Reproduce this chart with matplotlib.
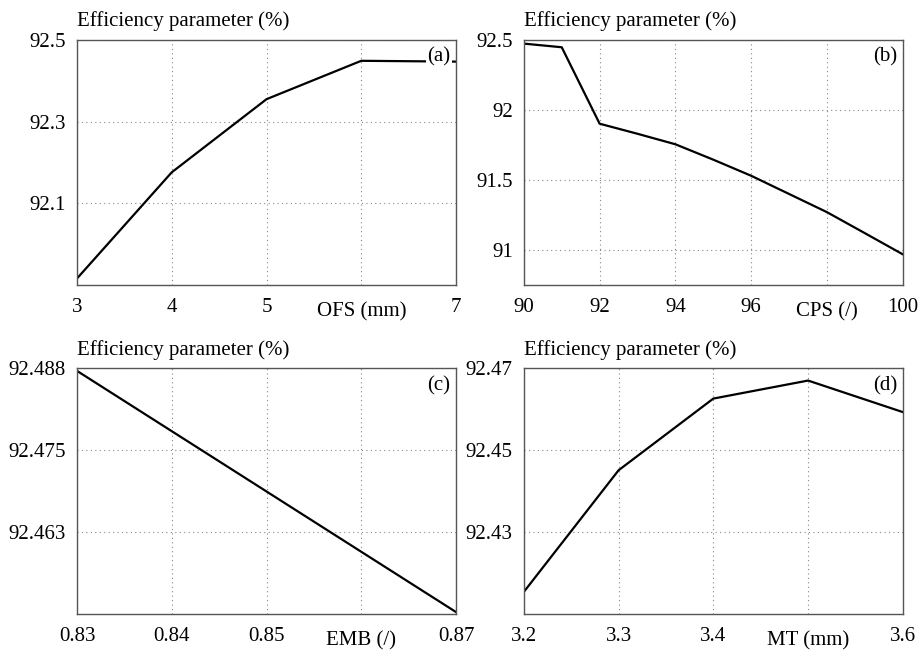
import numpy as np
import matplotlib
matplotlib.use("Agg")
from matplotlib import pyplot as plt
from matplotlib import transforms

plt.rcParams['font.family'] = ['Liberation Serif', 'DejaVu Serif']
plt.rcParams['font.size'] = 15

# (a) OFS
ofs = [3, 4, 5, 6, 7]
eff_a = [91.916, 92.176, 92.355, 92.449, 92.447]
# (b) CPS
cps = [90, 91, 92, 93, 94, 95, 96, 97, 98, 99, 100]
eff_b = [92.474, 92.448, 91.902, 91.83, 91.755, 91.645, 91.53, 91.40, 91.27, 91.12, 90.969]
# (c) EMB
emb = [0.83, 0.84, 0.85, 0.86, 0.87]
eff_c = [92.4871, 92.4779, 92.4687, 92.4595, 92.4503]
# (d) MT
mt = [3.2, 3.3, 3.4, 3.5, 3.6]
eff_d = [92.4154, 92.4451, 92.4626, 92.4670, 92.4593]

panels = [
    dict(x=ofs, y=eff_a, xlim=(3, 7), xticks=[3, 4, 5, 6, 7], xlbl=['3', '4', '5', '', '7'],
         ylim=(91.9, 92.5), yticks=[92.1, 92.3, 92.5], ylbl=['92.1', '92.3', '92.5'],
         xlabel='OFS (mm)', xlab_pos=6, tag='(a)'),
    dict(x=cps, y=eff_b, xlim=(90, 100), xticks=[90, 92, 94, 96, 98, 100],
         xlbl=['90', '92', '94', '96', '', '100'],
         ylim=(90.75, 92.5), yticks=[91, 91.5, 92, 92.5], ylbl=['91', '91.5', '92', '92.5'],
         xlabel='CPS (/)', xlab_pos=98, tag='(b)'),
    dict(x=emb, y=eff_c, xlim=(0.83, 0.87), xticks=[0.83, 0.84, 0.85, 0.86, 0.87],
         xlbl=['0.83', '0.84', '0.85', '', '0.87'],
         ylim=(92.45, 92.4875), yticks=[92.4625, 92.475, 92.4875],
         ylbl=['92.463', '92.475', '92.488'],
         xlabel='EMB (/)', xlab_pos=0.86, tag='(c)'),
    dict(x=mt, y=eff_d, xlim=(3.2, 3.6), xticks=[3.2, 3.3, 3.4, 3.5, 3.6],
         xlbl=['3.2', '3.3', '3.4', '', '3.6'],
         ylim=(92.41, 92.47), yticks=[92.43, 92.45, 92.47], ylbl=['92.43', '92.45', '92.47'],
         xlabel='MT (mm)', xlab_pos=3.5, tag='(d)'),
]

fig = plt.figure(figsize=(9.19, 6.51), dpi=100)
rects = [
    [0.0838, 0.5622, 0.4124, 0.3764],
    [0.5700, 0.5622, 0.4124, 0.3764],
    [0.0838, 0.0568, 0.4124, 0.3775],
    [0.5700, 0.0568, 0.4124, 0.3775],
]

for p, r in zip(panels, rects):
    ax = fig.add_axes(r)
    ax.plot(p['x'], p['y'], color='black', lw=1.6, zorder=2)
    ax.set_xlim(*p['xlim'])
    ax.set_ylim(*p['ylim'])
    ax.set_xticks(p['xticks'])
    ax.set_xticklabels(p['xlbl'])
    ax.set_yticks(p['yticks'])
    ax.set_yticklabels(p['ylbl'])
    ax.tick_params(length=0, pad=9, labelsize=15)
    ax.tick_params(axis='y', pad=8)
    ax.grid(True, linestyle=(0, (1, 3)), color='#888888', lw=0.8)
    for s in ax.spines.values():
        s.set_color('#555555')
        s.set_linewidth(1.0)
    trans = transforms.blended_transform_factory(ax.transData, ax.transAxes)
    ax.text(p['xlab_pos'], -0.07, p['xlabel'], transform=trans, ha='center', va='top',
            fontsize=15)
    ax.text(0.0, 1.035, 'Efficiency parameter (%)', transform=ax.transAxes,
            ha='left', va='bottom', fontsize=15)
    ax.text(0.985, 0.93, p['tag'], transform=ax.transAxes, ha='right', va='center',
            fontsize=15, zorder=3,
            bbox=dict(facecolor='white', edgecolor='none', pad=1))

fig.savefig('out.png', dpi=100)
